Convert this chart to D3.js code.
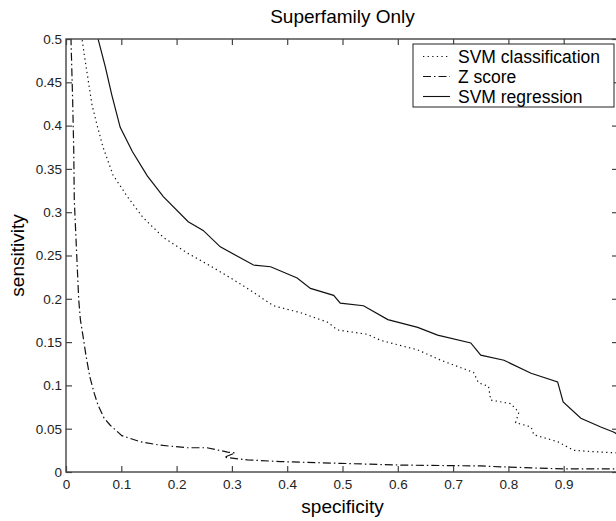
<!DOCTYPE html>
<html>
<head>
<meta charset="utf-8">
<script src="https://cdn.jsdelivr.net/npm/d3@7"></script>
<style>
  body { margin: 0; background: #fff; }
  svg { font-family: "Liberation Sans", Arial, Helvetica, sans-serif; }
</style>
</head>
<body>
<script>
// tick values / labels
const xTicks = [0, 0.1, 0.2, 0.3, 0.4, 0.5, 0.6, 0.7, 0.8, 0.9, 1];
const xLabelTicks = [0, 0.1, 0.2, 0.3, 0.4, 0.5, 0.6, 0.7, 0.8, 0.9]; // "1" falls outside the crop
const yTicks = [0, 0.05, 0.1, 0.15, 0.2, 0.25, 0.3, 0.35, 0.4, 0.45, 0.5];
const seriesNames = ["SVM classification", "Z score", "SVM regression"];

// curves, [specificity, sensitivity]
const svmClass = [
  [0.029, 0.52], [0.029, 0.500], [0.033, 0.482], [0.040, 0.453], [0.047, 0.424], [0.056, 0.401],
  [0.067, 0.375], [0.085, 0.343], [0.111, 0.318], [0.139, 0.294], [0.176, 0.271],
  [0.219, 0.253], [0.261, 0.238], [0.303, 0.222], [0.333, 0.210], [0.375, 0.192],
  [0.424, 0.184], [0.473, 0.173], [0.491, 0.164], [0.545, 0.159], [0.569, 0.152],
  [0.636, 0.141], [0.678, 0.129], [0.737, 0.115], [0.746, 0.103], [0.764, 0.099],
  [0.768, 0.083], [0.804, 0.079], [0.819, 0.069], [0.813, 0.057], [0.841, 0.052],
  [0.846, 0.043], [0.889, 0.035], [0.918, 0.025], [0.967, 0.023], [1.0, 0.022]
];
const zScore = [
  [0.009, 0.52], [0.009, 0.500], [0.012, 0.430], [0.014, 0.372], [0.015, 0.314], [0.019, 0.256],
  [0.023, 0.199], [0.026, 0.176], [0.031, 0.156], [0.036, 0.135], [0.043, 0.110],
  [0.051, 0.091], [0.058, 0.077], [0.069, 0.062], [0.080, 0.054], [0.101, 0.042],
  [0.134, 0.035], [0.170, 0.031], [0.219, 0.028], [0.255, 0.028], [0.292, 0.023],
  [0.306, 0.022], [0.286, 0.017], [0.328, 0.014], [0.388, 0.012], [0.496, 0.010],
  [0.605, 0.008], [0.750, 0.007], [0.786, 0.006], [0.900, 0.0035], [1.0, 0.0035]
];
const svmReg = [
  [0.058, 0.52], [0.058, 0.500], [0.071, 0.468], [0.083, 0.435], [0.098, 0.398], [0.120, 0.370],
  [0.147, 0.342], [0.176, 0.318], [0.221, 0.289], [0.248, 0.279], [0.279, 0.260],
  [0.339, 0.239], [0.370, 0.237], [0.418, 0.224], [0.442, 0.212], [0.484, 0.204],
  [0.496, 0.195], [0.538, 0.192], [0.582, 0.176], [0.636, 0.167], [0.672, 0.158],
  [0.732, 0.149], [0.750, 0.135], [0.792, 0.129], [0.841, 0.114], [0.889, 0.104],
  [0.899, 0.081], [0.931, 0.062], [0.967, 0.052], [0.991, 0.046], [1.0, 0.042]
];

const width = 616, height = 521;
const m = { left: 66, right: 619, top: 39, bottom: 472 };

const x = d3.scaleLinear().domain([0, 1]).range([m.left, m.right]);
const y = d3.scaleLinear().domain([0, 0.5]).range([m.bottom, m.top]);

const svg = d3.select("body").append("svg")
  .attr("width", width)
  .attr("height", height);

svg.append("defs").append("clipPath").attr("id", "plot")
  .append("rect")
  .attr("x", m.left).attr("y", m.top)
  .attr("width", m.right - m.left).attr("height", m.bottom - m.top);

// the curves
const line = d3.line().x(d => x(d[0])).y(d => y(d[1]));
const styles = [
  { data: svmClass, dash: "1.3,3.3" },
  { data: zScore, dash: "8,3,1.5,3" },
  { data: svmReg, dash: null }
];
svg.append("g").attr("clip-path", "url(#plot)")
  .selectAll("path")
  .data(styles)
  .join("path")
  .attr("d", d => line(d.data))
  .attr("fill", "none")
  .attr("stroke", "#111")
  .attr("stroke-width", 1.2)
  .attr("stroke-dasharray", d => d.dash);

// axes, MATLAB box style with inward ticks
const axisColor = "#444";
function styleAxis(g) {
  g.select(".domain").remove();
  g.selectAll(".tick line").attr("stroke", axisColor).attr("stroke-width", 1.2);
  g.selectAll(".tick text").attr("fill", "#222").style("font-size", "13.5px");
}
svg.append("g").attr("transform", `translate(0,${m.bottom})`)
  .call(d3.axisBottom(x).tickValues(xLabelTicks).tickSizeInner(-6).tickPadding(7).tickFormat(d3.format("")))
  .call(styleAxis);
svg.append("g").attr("transform", `translate(${m.left},0)`)
  .call(d3.axisLeft(y).tickValues(yTicks).tickSizeInner(-6).tickPadding(4).tickFormat(d3.format("")))
  .call(styleAxis);
svg.append("g").attr("transform", `translate(0,${m.top})`)
  .call(d3.axisTop(x).tickValues(xTicks).tickSizeInner(-6).tickFormat(""))
  .call(styleAxis);
svg.append("g").attr("transform", `translate(${m.right},0)`)
  .call(d3.axisRight(y).tickValues(yTicks).tickSizeInner(-7).tickFormat(""))
  .call(styleAxis);

svg.append("rect")
  .attr("x", m.left).attr("y", m.top)
  .attr("width", m.right - m.left).attr("height", m.bottom - m.top)
  .attr("fill", "none").attr("stroke", axisColor).attr("stroke-width", 1.4);

// titles
svg.append("text")
  .attr("x", (m.left + m.right) / 2).attr("y", 23)
  .attr("text-anchor", "middle")
  .style("font-size", "19px")
  .text("Superfamily Only");
svg.append("text")
  .attr("x", (m.left + m.right) / 2).attr("y", 513)
  .attr("text-anchor", "middle")
  .style("font-size", "19px")
  .text("specificity");
svg.append("text")
  .attr("transform", `translate(24,${(m.top + m.bottom) / 2}) rotate(-90)`)
  .attr("text-anchor", "middle")
  .style("font-size", "19px")
  .text("sensitivity");

// legend
const legend = svg.append("g");
legend.append("rect")
  .attr("x", 413).attr("y", 44).attr("width", 201).attr("height", 63)
  .attr("fill", "#fff").attr("stroke", "#222").attr("stroke-width", 1);
const rows = legend.selectAll("g.row")
  .data(styles)
  .join("g").attr("class", "row")
  .attr("transform", (d, i) => `translate(0,${56.5 + i * 20})`);
rows.append("line")
  .attr("x1", 423).attr("x2", 450)
  .attr("stroke", "#111").attr("stroke-width", 1.1)
  .attr("stroke-dasharray", d => d.dash);
rows.append("text")
  .attr("x", 458).attr("dy", "0.36em")
  .style("font-size", "17.5px")
  .text((d, i) => seriesNames[i]);
</script>
</body>
</html>
